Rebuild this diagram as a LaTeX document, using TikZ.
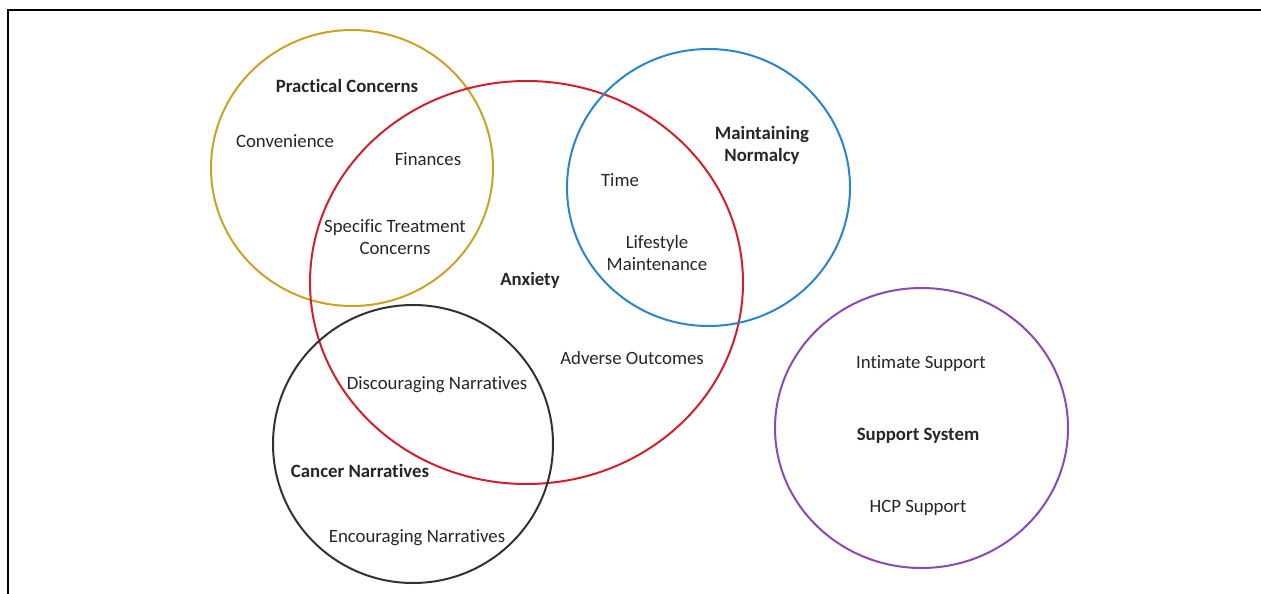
\documentclass[tikz,border=0pt]{standalone}
\usepackage{fontspec}
\setmainfont{Carlito}[Ligatures=NoCommon]
\definecolor{cgold}{RGB}{201,162,39}
\definecolor{cred}{RGB}{208,32,42}
\definecolor{cblue}{RGB}{40,134,204}
\definecolor{cblack}{RGB}{50,50,50}
\definecolor{cpurple}{RGB}{140,72,180}
\begin{document}
\begin{tikzpicture}[x=1pt,y=-1pt,
  ring/.style={line width=2pt},
  lbl/.style={font=\fontsize{18.8}{22}\selectfont, text=black!85, align=center, inner sep=0pt},
  hdr/.style={lbl, font=\fontsize{18.8}{22}\selectfont\bfseries}]
\useasboundingbox (0,0) rectangle (1261,594);
\draw[line width=1.5pt] (8,594) -- (8,10) -- (1261,10);
\draw[ring, cgold] (352,168) ellipse [x radius=141, y radius=138];
\draw[ring, cred] (526.5,282.5) ellipse [x radius=216.5, y radius=201.5];
\draw[ring, cblue] (708.5,187.5) ellipse [x radius=141.5, y radius=138.5];
\draw[ring, cblack] (413,444) ellipse [x radius=140, y radius=139];
\draw[ring, cpurple] (921.5,428) ellipse [x radius=146.5, y radius=140];
\node[hdr] (pc) at (347,85.5) {Practical Concerns};
\node[lbl] (conv) at (285,141.5) {Convenience};
\node[lbl] (fin) at (428,159.5) {Finances};
\node[lbl] (stc) at (395,237.5) {Specific Treatment\\Concerns};
\node[hdr] (anx) at (530,280.5) {Anxiety};
\node[hdr] (mn) at (762,145) {Maintaining\\Normalcy};
\node[lbl] (time) at (620,180.5) {Time};
\node[lbl] (lm) at (657,253) {Lifestyle\\Maintenance};
\node[lbl] (ao) at (632,358.5) {Adverse Outcomes};
\node[lbl] (dn) at (437,384.5) {Discouraging Narratives};
\node[hdr] (cn) at (360,470.5) {Cancer Narratives};
\node[lbl] (en) at (417,537.5) {Encouraging Narratives};
\node[lbl] (is) at (921,363.5) {Intimate Support};
\node[hdr] (ss) at (918,435.5) {Support System};
\node[lbl] (hcp) at (918,507.5) {HCP Support};
\end{tikzpicture}
\end{document}
